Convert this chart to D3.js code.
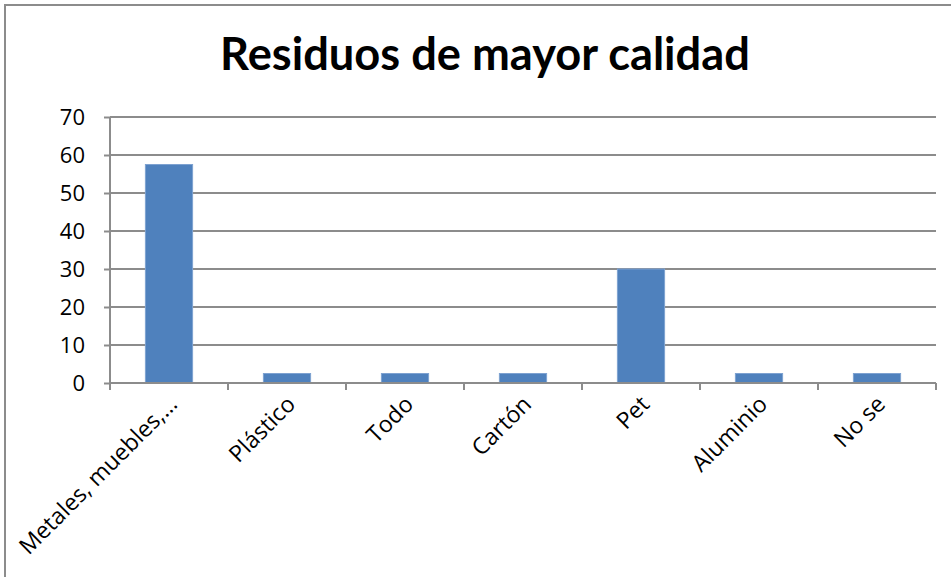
<!DOCTYPE html>
<html>
<head>
<meta charset="utf-8">
<script src="https://cdn.jsdelivr.net/npm/d3@7"></script>
<style>
  body { margin: 0; background: #fff; }
  svg { display: block; font-family: Lato, "Open Sans", sans-serif; }
</style>
</head>
<body>
<div id="chart"></div>
<script>
// data
const categories = ["Metales, muebles,…", "Plástico", "Todo", "Cartón", "Pet", "Aluminio", "No se"];
const values = [57.5, 2.5, 2.5, 2.5, 30, 2.5, 2.5];
const yTicks = [0, 10, 20, 30, 40, 50, 60, 70];
const title = "Residuos de mayor calidad";

const width = 951,
    height = 577;
const margin = { top: 117, right: 15, bottom: 194, left: 110 };

const svg = d3.select("#chart")
    .append("svg")
    .attr("width", width)
    .attr("height", height);

// outer frame (only top and left show in the reference)
svg.append("path")
    .attr("d", `M5,${height} V5 H${width}`)
    .attr("fill", "none")
    .attr("stroke", "#8c8c8c")
    .attr("stroke-width", 2);

const x = d3.scaleBand()
    .domain(categories)
    .range([margin.left, width - margin.right])
    .paddingInner(0.6)
    .paddingOuter(0.3);

const y = d3.scaleLinear()
    .domain([0, 70])
    .range([height - margin.bottom, margin.top]);

// gridlines
svg.append("g")
    .selectAll("line")
    .data(yTicks.filter(d => d > 0))
    .enter()
    .append("line")
        .attr("x1", margin.left)
        .attr("x2", width - margin.right)
        .attr("y1", d => y(d))
        .attr("y2", d => y(d))
        .attr("stroke", "#8c8c8c")
        .attr("stroke-width", 2);

// bars
svg.append("g")
    .selectAll("rect")
    .data(values)
    .enter()
    .append("rect")
        .attr("x", (d, i) => x(categories[i]))
        .attr("width", x.bandwidth())
        .attr("y", d => y(d))
        .attr("height", d => y(0) - y(d))
        .attr("fill", "#4f81bd")
        .attr("stroke", "#7ea2d1")
        .attr("stroke-width", 1);

// y axis
const yAxis = svg.append("g")
    .attr("transform", `translate(${margin.left},0)`)
    .call(d3.axisLeft(y).tickValues(yTicks).tickSize(6).tickPadding(19));
yAxis.selectAll("line, path").attr("stroke", "#8c8c8c").attr("stroke-width", 2);
yAxis.select(".domain").attr("d", `M0,${y(70)}V${y(0)}`);
yAxis.selectAll("text")
    .attr("fill", "#000")
    .style("font-size", "22px")
    .style("font-family", "'Open Sans', sans-serif");

// x axis: ticks at the category boundaries, like the spreadsheet chart
const bounds = d3.range(categories.length + 1).map(i => margin.left + i * (width - margin.right - margin.left) / categories.length);
const xg = svg.append("g");
xg.append("line")
    .attr("x1", margin.left).attr("x2", width - margin.right)
    .attr("y1", y(0)).attr("y2", y(0))
    .attr("stroke", "#8c8c8c").attr("stroke-width", 2);
xg.selectAll(".tick")
    .data(bounds)
    .enter()
    .append("line")
        .attr("x1", d => d).attr("x2", d => d)
        .attr("y1", y(0)).attr("y2", y(0) + 7)
        .attr("stroke", "#8c8c8c").attr("stroke-width", 2);

xg.selectAll(".lab")
    .data(categories)
    .enter()
    .append("text")
        .attr("transform", d => `translate(${x(d) + x.bandwidth() / 2 + 4},${y(0) + 17}) rotate(-45)`)
        .attr("text-anchor", "end")
        .attr("dy", "0.35em")
        .style("font-size", "23px")
        .style("font-family", "'Open Sans', sans-serif")
        .text(d => d);

// title
const t = svg.append("text")
    .attr("x", 485)
    .attr("y", 70)
    .attr("text-anchor", "middle")
    .style("font-weight", "bold")
    .style("font-size", "40px")
    .text(title);
const tw = t.node().getComputedTextLength();
t.style("font-size", (40 * 530 / tw) + "px");
</script>
</body>
</html>
